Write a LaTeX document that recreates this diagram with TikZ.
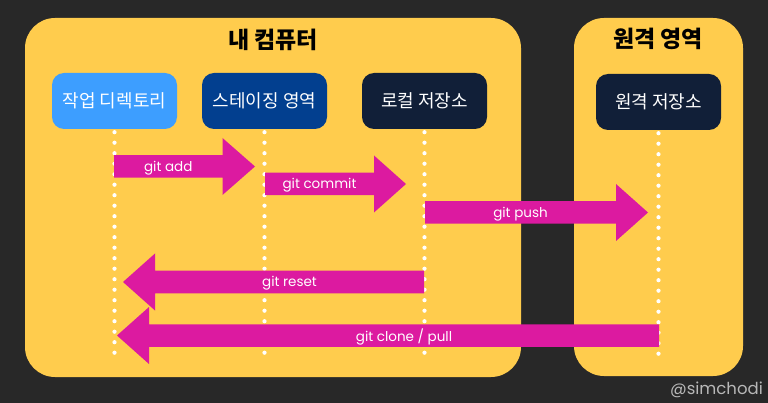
\documentclass[tikz,border=0pt]{standalone}
\usepackage{fontspec}
\setmainfont{Poppins}
\newfontfamily\krfont{Noto Sans CJK KR}
\usetikzlibrary{calc}
\definecolor{bgc}{HTML}{282828}
\definecolor{panelc}{HTML}{FFCC4D}
\definecolor{wdc}{HTML}{3D9EFF}
\definecolor{stc}{HTML}{023F8F}
\definecolor{navyc}{HTML}{111F38}
\definecolor{arrc}{HTML}{DC1AA0}
\definecolor{markc}{HTML}{B8B8B8}
% #1 shaft start x, #2 tip x, #3 centre y, #4 signed head length, #5 name, #6 label
\newcommand{\fatarr}[6]{%
  \pgfmathsetmacro{\hb}{#2-(#4)}%
  \pgfmathsetmacro{\mx}{(#1+\hb)/2}%
  \pgfmathsetmacro{\my}{#3+1.5}%
  \pgfmathsetmacro{\ya}{#3-11.25}%
  \pgfmathsetmacro{\yb}{#3+11.25}%
  \pgfmathsetmacro{\yc}{#3-28.5}%
  \pgfmathsetmacro{\yd}{#3+28.5}%
  \fill[arrc] (#1,\ya) -- (\hb,\ya) -- (\hb,\yc) -- (#2,#3)
    -- (\hb,\yd) -- (\hb,\yb) -- (#1,\yb) -- cycle;
  \node[alabel] (#5) at (\mx,\my) {#6};}
\begin{document}
\begin{tikzpicture}[x=1pt,y=-1pt,
  panel/.style={fill=panelc,rounded corners=30pt},
  box/.style={minimum width=125pt,minimum height=56pt,rounded corners=12pt,inner sep=0pt,
    text=white,font=\krfont\fontsize{18}{20}\selectfont},
  title/.style={font=\krfont\bfseries\fontsize{23}{25}\selectfont,text=black,inner sep=0pt},
  life/.style={draw=white,line width=4.2pt,line cap=round,dash pattern=on 0pt off 10.5pt},
  alabel/.style={text=white,font=\fontsize{13.5}{15}\selectfont,inner sep=0pt}]
\fill[bgc] (0,0) rectangle (768,403);
\useasboundingbox (0,0) rectangle (768,403);
\fill[panel] (25,18) rectangle (521,377);
\fill[panel] (574,18) rectangle (743,376);
\node[title] (t1) at (273,40) {내 컴퓨터};
\node[title] (t2) at (658,39) {원격 영역};
\node[box,fill=wdc] (wd) at (114.5,101) {작업 디렉토리};
\node[box,fill=stc] (st) at (264.5,101) {스테이징 영역};
\node[box,fill=navyc] (lo) at (424.5,101) {로컬 저장소};
\node[box,fill=navyc] (re) at (658.5,102) {원격 저장소};
\foreach \n in {wd,st,lo,re}{
  \coordinate (\n end) at (\n.south |- 0,363);
  \draw[life] ($(\n.south)+(0,3)$) -- (\n end);}
\fatarr{114}{255}{166.5}{32.5}{ladd}{git add}
\fatarr{265}{406}{184}{32}{lcommit}{git commit}
\fatarr{425}{648}{212.5}{32}{lpush}{git push}
\fatarr{424}{123}{282}{-32}{lreset}{git reset}
\fatarr{659}{117}{335.5}{-32}{lclone}{git clone / pull}
\node[text=markc,font=\fontsize{16.5}{18}\selectfont,anchor=east,inner sep=0pt] (mark) at (763,390) {@simchodi};
\end{tikzpicture}
\end{document}
